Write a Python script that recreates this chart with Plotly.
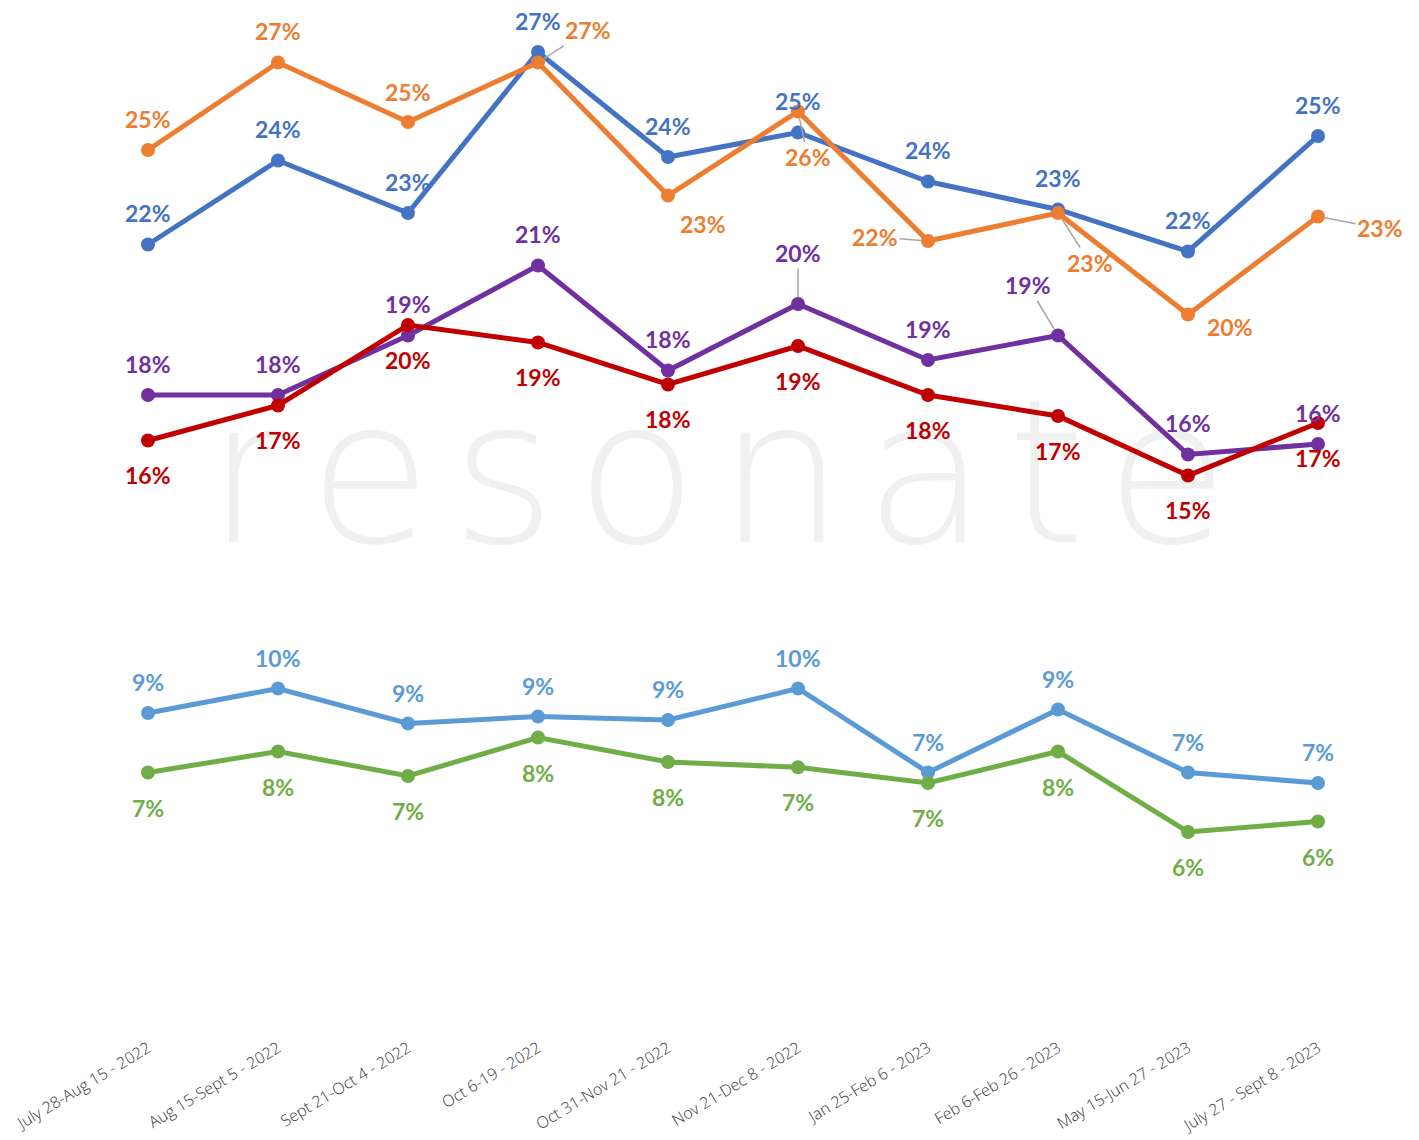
import plotly.graph_objects as go

categories = [
    "July 28-Aug 15 - 2022", "Aug 15-Sept 5 - 2022", "Sept 21-Oct 4 - 2022",
    "Oct 6-19 - 2022", "Oct 31-Nov 21 - 2022", "Nov 21-Dec 8 - 2022",
    "Jan 25-Feb 6 - 2023", "Feb 6-Feb 26 - 2023", "May 15-Jun 27 - 2023",
    "July 27 - Sept 8 - 2023",
]

# top group (values in %)
blue_vals = [21.9, 24.3, 22.8, 27.4, 24.4, 25.1, 23.7, 22.9, 21.7, 25.0]
orange_vals = [24.6, 27.1, 25.4, 27.1, 23.3, 25.7, 22.0, 22.8, 19.9, 22.7]
purple_vals = [17.6, 17.6, 19.3, 21.3, 18.3, 20.2, 18.6, 19.3, 15.9, 16.2]
red_vals = [16.3, 17.3, 19.6, 19.1, 17.9, 19.0, 17.6, 17.0, 15.3, 16.8]
# bottom group (values in %)
lightblue_vals = [9.0, 9.7, 8.7, 8.9, 8.8, 9.7, 7.3, 9.1, 7.3, 7.0]
green_vals = [7.3, 7.9, 7.2, 8.3, 7.6, 7.45, 7.0, 7.9, 5.6, 5.9]

watermark = "resonate"

# label placement (pixel offsets dx, dy; dy positive = down) and leader flags
above = [(0, -31)] * 10
below = [(0, 35)] * 10
orange_off = [(0, -31), (0, -31), (0, -30), (50, -32), (35, 29), (10, 46), (-53, -4), (32, 50), (42, 13), (62, 12)]
orange_lead = [0, 0, 0, 1, 0, 1, 1, 1, 0, 1]
purple_off = [(0, -31)] * 5 + [(0, -51), (0, -31), (-30, -50), (0, -31), (0, -31)]
purple_lead = [0, 0, 0, 0, 0, 1, 0, 1, 0, 0]
no_lead = [0] * 10

series = [
    ("blue", blue_vals, "#4472C4", "y", above, no_lead),
    ("orange", orange_vals, "#ED7D31", "y", orange_off, orange_lead),
    ("purple", purple_vals, "#7030A0", "y", purple_off, purple_lead),
    ("red", red_vals, "#C00000", "y", below, no_lead),
    ("lightblue", lightblue_vals, "#5B9BD5", "y2", above, no_lead),
    ("green", green_vals, "#70AD47", "y2", below, no_lead),
]

fig = go.Figure()
annotations = []
for name, vals, color, yax, offs, leads in series:
    fig.add_trace(go.Scatter(
        x=categories, y=vals, mode="lines+markers", name=name, yaxis=yax,
        line=dict(color=color, width=5), marker=dict(color=color, size=14),
        cliponaxis=False, showlegend=False,
    ))
    for c, v, (dx, dy), lead in zip(categories, vals, offs, leads):
        a = dict(x=c, y=v, xref="x", yref=yax, text=f"{v:.0f}%",
                 font=dict(family="Lato", size=23, color=color, weight="bold"))
        if lead:
            a.update(showarrow=True, ax=dx, ay=dy, arrowhead=0, arrowwidth=1.5,
                     arrowcolor="#A6A6A6", standoff=7)
        else:
            a.update(showarrow=False, xshift=dx, yshift=-dy)
        annotations.append(a)

spaced = "\u200a".join(watermark)

fig.update_layout(
    width=1419, height=1140,
    margin=dict(l=75, r=44, t=0, b=113),
    paper_bgcolor="white", plot_bgcolor="white",
    xaxis=dict(type="category", range=[-0.5, 9.5], showgrid=False, zeroline=False,
               showline=False, ticks="", tickangle=-31,
               tickfont=dict(family="Open Sans", size=16, color="#333333", weight=300)),
    yaxis=dict(range=[-0.686, 28.657], visible=False, fixedrange=True),
    yaxis2=dict(range=[-0.2, 29.143], visible=False, overlaying="y"),
    annotations=annotations,
    shapes=[dict(type="rect", xref="paper", yref="paper", x0=-0.002, x1=0.978, y0=0.461, y1=0.661,
                 line=dict(width=0), fillcolor="rgba(0,0,0,0)", layer="below",
                 label=dict(text=spaced, textposition="middle center",
                            font=dict(family="DejaVu Sans", size=200, color="#F0F0F0", weight=200)))],
)

fig.write_html("out.html")
